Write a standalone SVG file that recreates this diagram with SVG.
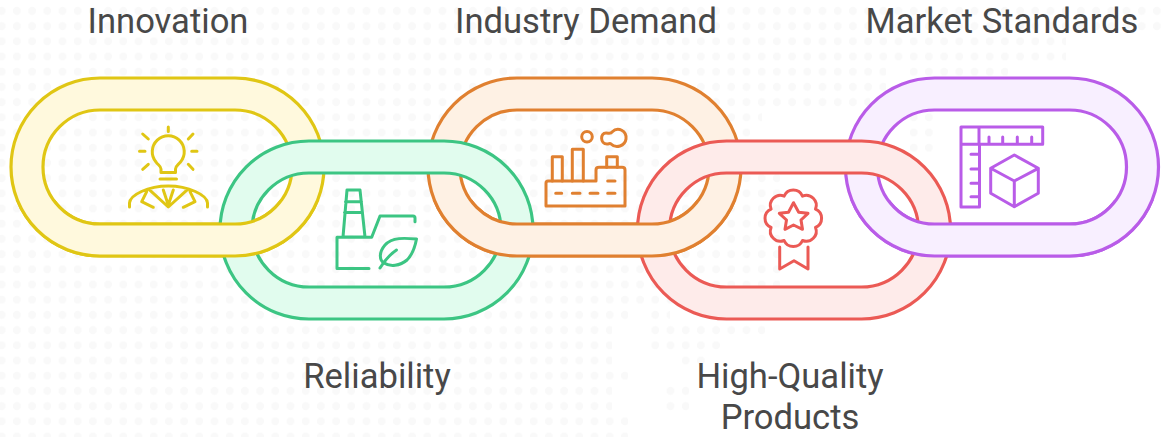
<svg xmlns="http://www.w3.org/2000/svg" width="1161" height="437" viewBox="0 0 1161 437">
<style>
.lbl{font-family:Roboto,"Liberation Sans",sans-serif;font-size:34.6px;fill:#484848;text-anchor:middle}
.ring{fill-rule:evenodd;stroke-width:3.2}
.ic{fill:none;stroke-width:3;stroke-linecap:round;stroke-linejoin:round}
.y{fill:#fff9dd;stroke:#e0c614}.g{fill:#e1fcee;stroke:#3cc583}.o{fill:#fef1e4;stroke:#e08030}.r{fill:#feebea;stroke:#eb5a55}.p{fill:#f8efff;stroke:#b95ce8}
.iy{stroke:#e0c614}.ig{stroke:#3cc583}.io{stroke:#e08030}.ir{stroke:#eb5a55}.ip{stroke:#b95ce8}
</style>
<defs>
<path id="ring" d="M89 0H224A89 89 0 0 1 224 178H89A89 89 0 0 1 89 0ZM89 32A57 57 0 0 0 89 146H224A57 57 0 0 0 224 32Z"/>
<pattern id="dots" width="15.2" height="15.2" patternUnits="userSpaceOnUse" x="-5.9" y="3.300">
<circle cx="7.6" cy="7.6" r="4" fill="#f9f9f9"/>
</pattern>
<clipPath id="low"><rect x="0" y="200" width="1161" height="237"/></clipPath>
</defs>
<rect width="1161" height="437" fill="#ffffff"/>
<path id="bg" fill="url(#dots)" d="M0 3H1161V34H1066V64H886V79H908V64H1008V79H886V95H870V110H762V125H750V155H735V170H780V292H700V307H628V322H612V367H628V382H612V412H628V437H0Z M650 307H670V322H765V337H720V352H705V367H680V352H650Z M905 110H935V155H905Z M666 382H689V412H666Z"/>
<g id="connectors"></g>
<g id="link-innovation"><use href="#ring" x="11" y="78" class="ring y"/></g>
<g id="link-industry"><use href="#ring" x="428" y="78" class="ring o"/></g>
<g id="link-market"><use href="#ring" x="845.500" y="78" class="ring p"/></g>
<g id="link-reliability"><use href="#ring" x="220" y="141" class="ring g"/></g>
<g id="link-quality"><use href="#ring" x="637.500" y="141" class="ring r"/></g>
<g id="overlaps" clip-path="url(#low)">
<use href="#ring" x="11" y="78" class="ring y"/>
<use href="#ring" x="428" y="78" class="ring o"/>
<use href="#ring" x="845.500" y="78" class="ring p"/>
</g>
<g id="icon-innovation" class="ic iy">
<path d="M161 172.500V169C161 166 158 165 156 162A16 16 0 1 1 180.500 162C178 165 175.500 166 175.500 169V172.500ZM160 179H176.500M168.300 127V131.500M142.700 134L148.300 139M193 134L188.300 139M139.500 151.300H145M197 151.300H191.700M142.700 169.300L148.300 164.300M193 169.300L188.300 164.300"/>
<path d="M129.500 207V203C130 195 148 186 168.300 186C188.500 186 207 195 207.500 203V207M149 189.300L168.300 207L187.700 189.300M163.300 190L168.300 205L173.300 190M146.700 191.700L141.700 201.700L153.300 207.300M190 191.700L195 201.700L183.300 207.300"/>
</g>
<g id="icon-reliability" class="ic ig">
<path d="M347 190H360L365 237H343ZM345.500 201.700H361.500M344.500 212.500H362.500M369 268.500H337V237.300H371.700L380 216H413Q415 216 415 218V221.700"/>
<path d="M416.500 239C405 238 392 237 385 245C379 252 379 260 384 263C390 267 400 266 407 260C413 254 415 247 416.500 239Z"/>
<path d="M380 268C385 260 389 255 396.500 250"/>
</g>
<g id="icon-industry" class="ic io">
<path d="M552.300 181V156.700H562.300V181M572.300 181V149.300H583.300V181M606.700 167.300V156.700H617.300V167.300"/>
<path d="M548 181H596V170Q596 167.300 599 167.300H622Q625 167.300 625 170V206H546V183Q546 181 548 181Z"/>
<path d="M555.700 193.300H561.700M572.300 193.300H580M590 193.300H598M607.700 193.300H615M607.700 181H615"/>
<circle cx="587" cy="136.700" r="5.300"/>
<path d="M607 144C600 144 600 133 606 133C609 133 611 134 612 132C618 126 627 131 626 139C625 146 616 149 611 144C610 143 609 144 607 144Z"/>
</g>
<g id="icon-quality" class="ic ir">
<path d="M802.500 196.100A10 10 0 0 1 815.500 209.100A10 10 0 0 1 815.500 227.500A10 10 0 0 1 802.500 240.500A10 10 0 0 1 784.100 240.500A10 10 0 0 1 771.100 227.500A10 10 0 0 1 771.100 209.100A10 10 0 0 1 784.100 196.100A10 10 0 0 1 802.500 196.100Z"/>
<path d="M793.500 202.700L798.700 212.300L808 213.300L801 220L802.500 229.300L793.500 225L785 229.300L786.500 220L779.300 213.300L788.500 212.300Z"/>
<path d="M779.700 247V269L794 260.800L808 269V247"/>
</g>
<g id="icon-market" class="ic ip">
<path d="M961 127H1042.700V144.300H979.500V207H961ZM979 127V144.300M961 144.300H979M989 137V144.300M1002.700 137V144.300M1017.300 137V144.300M1031.700 137V144.300M971 154.300H979M971 169H979M971 183.300H979M971 196.700H979"/>
<path d="M1014.300 155L1038.300 168.300V193.300L1014.300 206.700L990.700 193.300V168.300ZM990.700 168.300L1014.300 181L1038.300 168.300M1014.300 181V206.700"/>
</g>
<g id="labels">
<text class="lbl" x="168" y="33">Innovation</text>
<text class="lbl" x="586" y="33">Industry Demand</text>
<text class="lbl" x="1002" y="33">Market Standards</text>
<text class="lbl" x="377" y="388">Reliability</text>
<text class="lbl" x="790" y="388">High-Quality</text>
<text class="lbl" x="790" y="429">Products</text>
</g>
</svg>
